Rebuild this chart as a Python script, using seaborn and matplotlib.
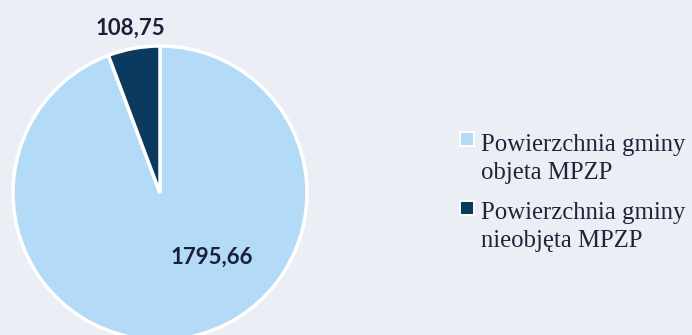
import matplotlib
matplotlib.use("Agg")
import matplotlib.pyplot as plt
from matplotlib.lines import Line2D
from matplotlib.legend_handler import HandlerLine2D
import seaborn as sns

categories = ["Powierzchnia gminy\nobjeta MPZP", "Powierzchnia gminy\nnieobjęta MPZP"]
values = [1795.66, 108.75]
value_labels = ["1795,66", "108,75"]
colors = ["#b3dbf8", "#0b3a5e"]

sns.set_theme(style="white")
bg = "#eceef6"
legend_size = 17.8
legend_linespacing = 1.37
marker_lift_pt = 14.0  # raises the legend marker to the first line of its label


class FirstLineHandler(HandlerLine2D):
    """Places the legend marker beside the first line of a two-line label."""

    def create_artists(self, legend, orig_handle, xdescent, ydescent,
                       width, height, fontsize, trans):
        artists = super().create_artists(legend, orig_handle, xdescent, ydescent,
                                         width, height, fontsize, trans)
        for a in artists:
            a.set_ydata([y + marker_lift_pt for y in a.get_ydata()])
        return artists


fig = plt.figure(figsize=(6.92, 3.35), dpi=100, facecolor=bg)
r_px = 147
cx, cy = 160, 335 - 193
ax = fig.add_axes([(cx - r_px) / 692, (cy - r_px) / 335, 2 * r_px / 692, 2 * r_px / 335])
ax.set_facecolor(bg)

wedges, texts = ax.pie(
    values, colors=colors, startangle=90, counterclock=False,
    labels=value_labels, labeldistance=1.14,
    wedgeprops=dict(edgecolor="white", linewidth=2.5),
    textprops=dict(fontsize=16, fontweight="bold", color="#1c1f3a", family="Lato"),
)
ax.set_xlim(-1, 1)
ax.set_ylim(-1, 1)
ax.set_aspect("equal")
ax.axis("off")

# large slice label sits inside the slice, right of centre
texts[0].set_position((0.35, -0.44))
for t in texts:
    t.set_ha("center")
    t.set_va("center")

handles = [Line2D([0], [0], marker="s", linestyle="none", markersize=10,
                  markerfacecolor=c, markeredgecolor="white", markeredgewidth=1.4)
           for c in colors]
leg = fig.legend(handles, categories, loc="center left",
                 bbox_to_anchor=(460 / 692, 1 - 193 / 335),
                 frameon=False, handletextpad=0.26, handlelength=0.6, labelspacing=0.73,
                 borderpad=0, borderaxespad=0,
                 prop=dict(family="Liberation Serif", size=legend_size), labelcolor="#22223a",
                 handler_map={Line2D: FirstLineHandler()})
for t in leg.get_texts():
    t.set_linespacing(legend_linespacing)

fig.savefig("out.png", dpi=100, facecolor=bg)
